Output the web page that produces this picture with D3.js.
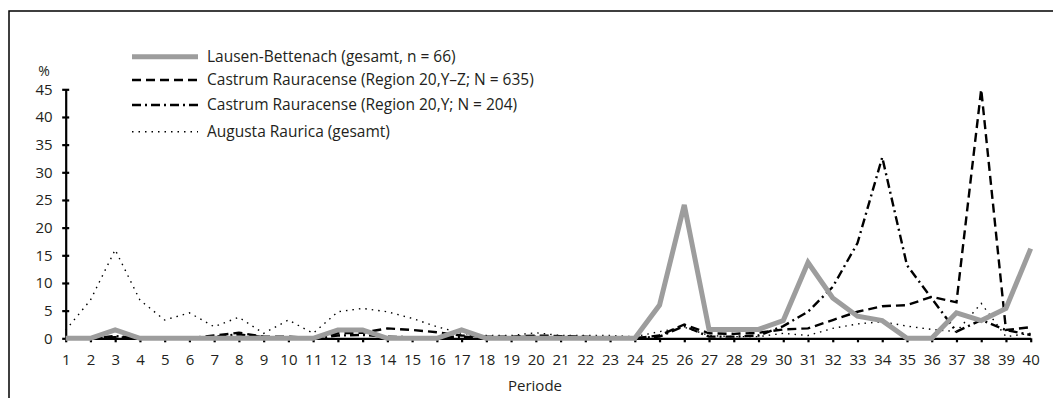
<!DOCTYPE html>
<html><head><meta charset="utf-8">
<script src="https://cdn.jsdelivr.net/npm/d3@7"></script>
<style>
body{margin:0;background:#fff;}
svg{display:block;font-family:"Open Sans","Noto Sans",sans-serif;}
</style></head>
<body><svg id="c" width="1053" height="398"></svg>
<script>
const periods = d3.range(1, 41);
const yTicks = [0,5,10,15,20,25,30,35,40,45];
const seriesNames = [
  "Lausen-Bettenach (gesamt, n = 66)",
  "Castrum Rauracense (Region 20,Y–Z; N = 635)",
  "Castrum Rauracense (Region 20,Y; N = 204)",
  "Augusta Raurica (gesamt)"
];
const lausen = [0,0,1.5,0,0,0,0,0,0,0,0,1.5,1.5,0,0,0,1.5,0,0,0,0,0,0,0,6,24.1,1.6,1.6,1.6,3.2,13.7,7.3,4,3.2,0,0,4.6,3.2,5.4,16.2];
const castrumYZ = [0,0,0.2,0,0,0,0.5,1,0.3,0.3,0,0.9,1,1.8,1.5,1.1,0.5,0.3,0.3,0.5,0.4,0.3,0.1,0,0.5,2.5,0.9,0.8,1,1.6,1.8,3.3,4.8,5.8,6,7.5,6.5,45,1.5,2];
const castrumY = [0,0,0.4,0,0,0,0.3,0.7,0.2,0.2,0,0.5,0.6,0.3,0.2,0.2,0.3,0.1,0.2,0.3,0.2,0.1,0,0,0.3,2.2,0.3,0.3,0.5,2.2,4.8,9.3,17.2,32.7,13.2,7.2,1.2,3.3,1.5,0.6];
const augusta = [1.5,6.9,16,6.9,3.3,4.6,2.1,3.8,0.9,3.3,0.9,4.8,5.4,4.8,3.6,2.1,0.9,0.5,0.5,1,0.5,0.5,0.5,0.3,1.2,2,0.5,0.3,0.3,0.9,0.5,1.8,2.6,3,2.2,1.6,1.2,6.3,0.3,0.9];

const FONT = "'Open Sans','Noto Sans',sans-serif";
const svg = d3.select("#c");
const x = d3.scalePoint().domain(periods).range([65.7, 1030.7]);
const y = d3.scaleLinear().domain([0,45]).range([338.3, 89.3]);

// frame (top and left borders)
svg.append("path").attr("d","M9,398 V11 H1053").attr("fill","none").attr("stroke","#000").attr("stroke-width",1.5);

const txt = "#231f20";
// y axis
const ya = svg.append("g").attr("transform","translate(65.7,0)")
  .call(d3.axisLeft(y).tickValues(yTicks).tickSize(0).tickPadding(13));
ya.select(".domain").attr("stroke","#000").attr("stroke-width",2.2);
ya.selectAll("text").attr("font-size",15).attr("fill",txt).attr("font-family",FONT);
ya.selectAll(".tick").append("line").attr("x1",-3.5).attr("x2",3.5).attr("stroke","#000").attr("stroke-width",2.2);
svg.append("text").attr("x",44).attr("y",76).attr("text-anchor","middle").attr("font-size",14).attr("fill",txt).text("%");

// x axis
const xa = svg.append("g").attr("transform","translate(0,338.3)")
  .call(d3.axisBottom(x).tickSize(4).tickPadding(12).tickSizeOuter(0));
xa.select(".domain").attr("stroke","#000").attr("stroke-width",2.2);
xa.selectAll("line").attr("stroke","#000").attr("stroke-width",2.2);
xa.selectAll("text").attr("font-size",15).attr("fill",txt).attr("font-family",FONT);
svg.append("text").attr("x",535).attr("y",391).attr("text-anchor","middle").attr("font-size",15).attr("fill",txt).text("Periode");

const styles = [
  {data:lausen, stroke:"#9d9d9d", width:5, dash:null},
  {data:castrumYZ, stroke:"#000", width:2.4, dash:"9,5"},
  {data:castrumY, stroke:"#000", width:2.4, dash:"9,4,2,4"},
  {data:augusta, stroke:"#000", width:1.4, dash:"1.5,5"}
];
const line = d3.line().x((d,i)=>x(periods[i])).y(d=>y(d));
[3,1,2,0].forEach(k=>{
  const s = styles[k];
  svg.append("path").attr("d", line(s.data)).attr("fill","none")
    .attr("stroke", s.stroke).attr("stroke-width", s.width)
    .attr("stroke-dasharray", s.dash).attr("stroke-linejoin","miter");
});

// legend
const legY = [56.7, 80, 105, 131.7];
seriesNames.forEach((n,k)=>{
  const s = styles[k];
  svg.append("line").attr("x1",132).attr("x2",198).attr("y1",legY[k]).attr("y2",legY[k])
    .attr("stroke",s.stroke).attr("stroke-width",s.width).attr("stroke-dasharray",s.dash);
  svg.append("text").attr("x",207).attr("y",legY[k]).attr("dy","0.35em")
    .attr("font-size",15.5).attr("fill",txt).text(n);
});
</script></body></html>
